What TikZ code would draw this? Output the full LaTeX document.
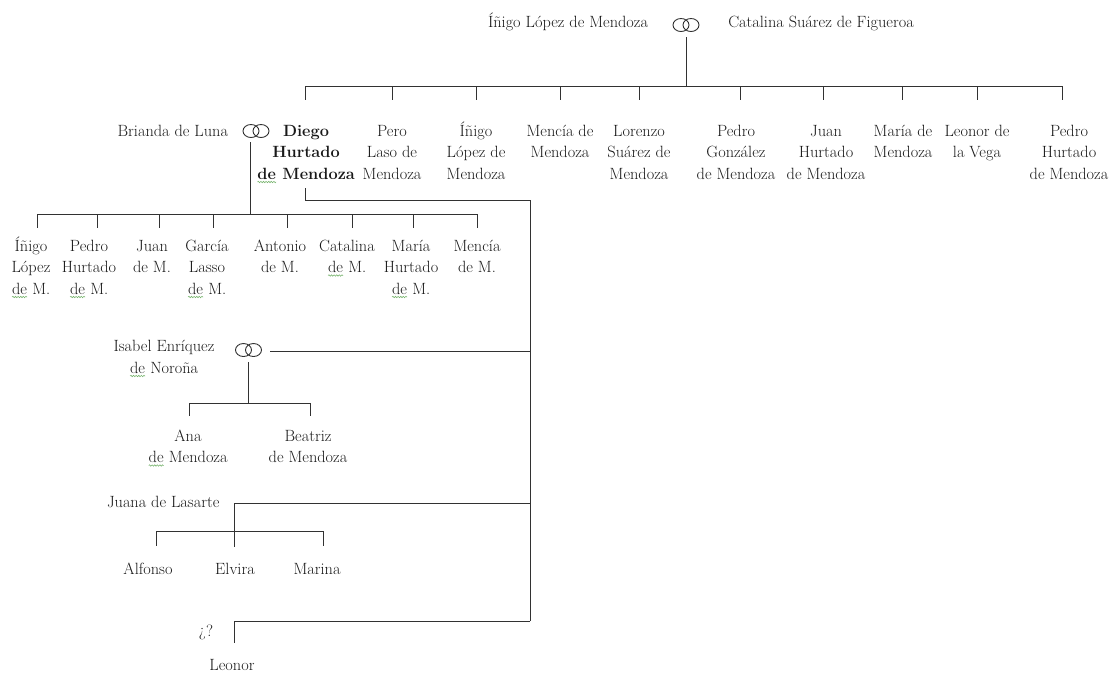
\documentclass[tikz,border=0pt]{standalone}
\usetikzlibrary{decorations.pathmorphing}
\definecolor{txt}{RGB}{25,25,25}
\definecolor{ln}{RGB}{50,50,50}
\definecolor{spellmark}{RGB}{120,180,110}
\newcommand\marriagerings[1]{%
  \draw[ringline] (#1) ++(-5,0) ellipse [x radius=8, y radius=6.5];
  \draw[ringline] (#1) ++(5,0) ellipse [x radius=8, y radius=6.5];}
% word flagged by the spell checker (thin green wave underneath)
\newcommand\spell[1]{\tikz[baseline=0pt]{%
  \node[inner sep=0pt, outer sep=0pt, anchor=base west, text=txt] (spw) at (0,0) {#1};
  \draw[spellmark, line width=0.6pt, decorate,
        decoration={snake, amplitude=0.7pt, segment length=2.6pt}]
    ([yshift=-3pt]spw.base west) -- ([yshift=-3pt]spw.base east);}}
\begin{document}
% multi-line names: anchor=base sits on the last line's baseline
\begin{tikzpicture}[x=1pt, y=-1pt,
  font=\fontsize{16.3}{21.5}\selectfont,
  every node/.style={inner sep=0pt, outer sep=0pt, text=txt},
  person/.style={align=center, anchor=base},
  link/.style={draw=ln, line width=1pt},
  ringline/.style={draw=ln, line width=0.9pt}]
\useasboundingbox (0,0) rectangle (1111,673);

% ---------- founding couple ----------
\node[person] (inigoP) at (568,27) {Íñigo López de Mendoza};
\node[person] (catalinaP) at (821,27) {Catalina Suárez de Figueroa};
\coordinate (r0) at (686,25);
\marriagerings{r0}
\coordinate (r0low) at (686,37);
\coordinate (bus0) at (686,86);
\draw[link] (r0low) -- (bus0);

% ---------- their children ----------
\foreach \t/\c/\y/\n/\s in {
  305/306/179/a1/{\textbf{Diego}\\\textbf{Hurtado}\\\textbf{\spell{de} Mendoza}},
  392/392/179/a2/{Pero\\Laso de\\Mendoza},
  476/476/179/a3/{Íñigo\\López de\\Mendoza},
  560/560/157.5/a4/{Mencía de\\Mendoza},
  639/639/179/a5/{Lorenzo\\Suárez de\\Mendoza},
  740/736/179/a6/{Pedro\\González\\de Mendoza},
  823/826/179/a7/{Juan\\Hurtado\\de Mendoza},
  902/903/157.5/a8/{María de\\Mendoza},
  977/977/157.5/a9/{Leonor de\\la Vega},
  1062/1069/179/a10/{Pedro\\Hurtado\\de Mendoza}}{
  \coordinate (bus-\n) at (\t,86);
  \coordinate (tick-\n) at (\t,100);
  \draw[link] (bus-\n) -- (tick-\n);
  \node[person] (\n) at (\c,\y) {\s};
}
\draw[link] (bus-a1) -- (bus-a10);

% ---------- Diego and Brianda de Luna ----------
\node[person, anchor=base east] (brianda) at (228,136) {Brianda de Luna};
\coordinate (r1) at (256,131);
\marriagerings{r1}
\coordinate (r1low) at (250,142);
\coordinate (bus1) at (250,214);
\draw[link] (r1low) -- (bus1);

\foreach \t/\c/\y/\n/\s in {
  37/31/294/b1/{Íñigo\\López\\\spell{de} M.},
  97/89/294/b2/{Pedro\\Hurtado\\\spell{de} M.},
  159/152/272.5/b3/{Juan\\de M.},
  213/207/294/b4/{García\\Lasso\\\spell{de} M.},
  287/280/272.5/b5/{Antonio\\de M.},
  352/347/272.5/b6/{Catalina\\\spell{de} M.},
  413/411/294/b7/{María\\Hurtado\\\spell{de} M.},
  477/477/272.5/b8/{Mencía\\de M.}}{
  \coordinate (bus-\n) at (\t,214);
  \coordinate (tick-\n) at (\t,228);
  \draw[link] (bus-\n) -- (tick-\n);
  \node[person] (\n) at (\c,\y) {\s};
}
\draw[link] (bus-b1) -- (bus-b8);

% ---------- Diego's line to his other unions ----------
\coordinate (dTop) at (305,188);
\coordinate (dBend) at (305,200);
\coordinate (spineTop) at (530,200);
\coordinate (spineIsabel) at (530,351);
\coordinate (spineJuana) at (530,503);
\coordinate (spineEnd) at (530,621);
\draw[link] (dTop) -- (dBend) -- (spineTop) -- (spineEnd);

% Isabel Enríquez de Noroña
\node[person] (isabel) at (164,373) {Isabel Enríquez\\\spell{de} Noroña};
\coordinate (r2) at (248.5,350);
\marriagerings{r2}
\coordinate (isabelEnd) at (270,351);
\draw[link] (spineIsabel) -- (isabelEnd);
\coordinate (r2low) at (248,362);
\coordinate (bus2) at (248,403);
\draw[link] (r2low) -- (bus2);
\foreach \t/\c/\n/\s in {
  189/188/c1/{Ana\\\spell{de} Mendoza},
  310/308/c2/{Beatriz\\de Mendoza}}{
  \coordinate (bus-\n) at (\t,403);
  \coordinate (tick-\n) at (\t,416);
  \draw[link] (bus-\n) -- (tick-\n);
  \node[person] (\n) at (\c,462.5) {\s};
}
\draw[link] (bus-c1) -- (bus-c2);

% Juana de Lasarte
\node[person, anchor=base west] (juana) at (107,507) {Juana de Lasarte};
\coordinate (juanaEnd) at (234,503);
\coordinate (juanaLow) at (234,547);
\draw[link] (spineJuana) -- (juanaEnd) -- (juanaLow);
\foreach \t/\c/\n/\s in {
  156/148/d1/{Alfonso},
  234/235/d2/{Elvira},
  323/317/d3/{Marina}}{
  \coordinate (bus-\n) at (\t,531);
  \coordinate (tick-\n) at (\t,546);
  \draw[link] (bus-\n) -- (tick-\n);
  \node[person] (\n) at (\c,574) {\s};
}
\draw[link] (bus-d1) -- (bus-d3);

% unknown mother, Leonor
\node[person] (unknown) at (206,636) {¿?};
\coordinate (leonorBend) at (234,621);
\coordinate (leonorLow) at (234,643);
\draw[link] (spineEnd) -- (leonorBend) -- (leonorLow);
\node[person] (leonor) at (232,670) {Leonor};
\end{tikzpicture}
\end{document}
